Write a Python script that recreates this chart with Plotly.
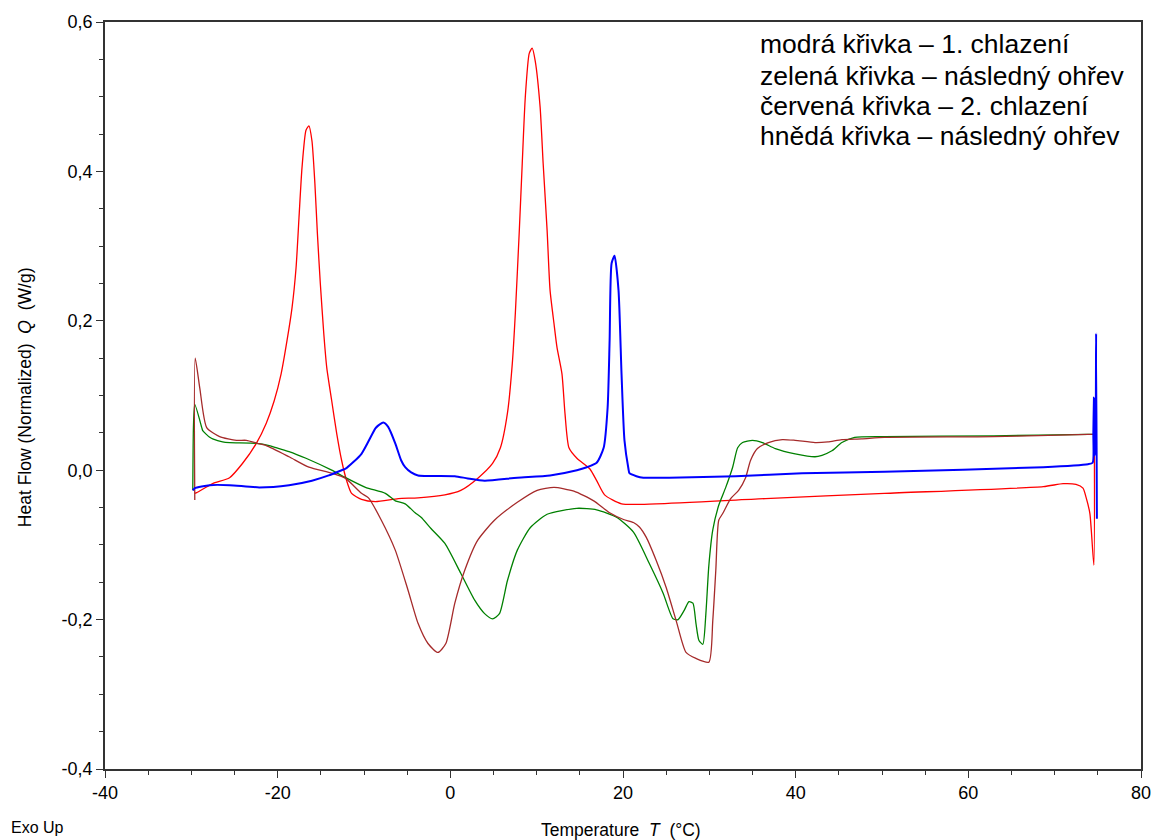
import plotly.graph_objects as go

# ---- data (Temperature °C, Heat flow W/g) ----
blue_T = [74.89, 74.80, 74.72, 74.62, 74.55, 74.48, 74.40, 73.86, 68.68, 50.29, 40.75, 33.05, 25.34,
          22.36, 21.55, 20.75, 20.63, 20.17, 19.83, 19.48, 19.02, 18.68, 18.45, 18.22, 17.76, 16.95,
          15.80, 14.66, 11.55, 7.76, 3.97, 2.01, 0.52, -3.74, -4.54, -5.23, -5.69, -6.38, -7.20,
          -7.76, -8.33, -8.68, -10.29, -12.13, -12.59, -14.08, -16.03, -18.68, -22.13, -25.57,
          -27.87, -29.60, -29.83]
blue_Q = [-0.065, 0.183, 0.030, 0.020, 0.097, 0.050, 0.010, 0.008, 0.004, -0.002, -0.004, -0.008, -0.010,
          -0.010, -0.008, -0.004, 0.002, 0.040, 0.129, 0.241, 0.287, 0.277, 0.174, 0.084, 0.030, 0.010,
          0.004, 0.000, -0.007, -0.010, -0.014, -0.011, -0.008, -0.007, -0.003, 0.004, 0.013, 0.036, 0.058,
          0.064, 0.060, 0.056, 0.022, 0.002, 0.000, -0.007, -0.014, -0.020, -0.023, -0.020,
          -0.020, -0.024, -0.027]

red_T = [74.60, 74.54, 74.08, 73.63, 73.28, 72.47, 70.98, 68.68, 50.29, 36.50, 23.85, 19.83, 17.87,
         16.95, 16.15, 14.66, 13.74, 13.28, 12.93, 12.36, 12.01, 11.55, 11.21, 10.75, 10.40, 9.83,
         9.48, 9.14, 8.68, 8.33, 7.99, 7.53, 7.18, 6.61, 5.80, 4.89, 3.16, 1.21, -0.63, -3.74, -6.03,
         -8.68, -10.29, -11.44, -12.01, -12.59, -13.16, -13.74, -14.31, -14.66, -15.06, -15.40,
         -15.69, -16.03, -16.38, -16.72, -17.18, -17.53, -17.87, -18.33, -18.91, -19.60, -20.40,
         -21.32, -22.47, -24.08, -25.57, -27.53, -29.37, -29.60]
red_Q = [0.050, -0.127, -0.058, -0.036, -0.024, -0.019, -0.018, -0.022, -0.031, -0.038, -0.045, -0.045, -0.033,
         -0.014, 0.002, 0.016, 0.030, 0.076, 0.129, 0.164, 0.196, 0.241, 0.321, 0.411, 0.486, 0.548,
         0.565, 0.558, 0.499, 0.411, 0.321, 0.210, 0.143, 0.076, 0.030, 0.009, -0.011, -0.027, -0.033, -0.037, -0.038,
         -0.042, -0.039, -0.031, -0.014, 0.013, 0.049, 0.093, 0.137, 0.183, 0.250, 0.317,
         0.384, 0.441, 0.461, 0.455, 0.405, 0.338, 0.271, 0.218, 0.174, 0.129, 0.093,
         0.063, 0.036, 0.009, -0.010, -0.018, -0.030, -0.031]

green_T = [-29.83, -29.75, -29.60, -28.79, -28.68, -27.87, -27.53, -26.38, -25.57, -22.47, -20.98, -19.83,
           -18.68, -16.72, -13.74, -12.13, -9.83, -7.53, -6.38, -5.23, -4.08, -3.39, -2.24, -0.63, 1.21,
           2.82, 3.97, 4.89, 5.69, 6.61, 7.76, 9.25, 11.21, 14.66, 16.95, 19.25, 21.21, 23.05, 24.66,
           25.80, 26.38, 27.07, 27.64, 28.10, 28.45, 28.80, 29.25, 29.60, 29.94, 30.40, 31.09, 31.90,
           32.70, 33.28, 33.85, 35.00, 36.15, 37.64, 39.94, 42.24, 43.05, 44.20, 45.35, 46.84, 50.29,
           62.93, 73.86, 74.43]
green_Q = [-0.027, 0.060, 0.088, 0.057, 0.053, 0.044, 0.042, 0.038, 0.037, 0.036, 0.033, 0.029,
           0.025, 0.016, 0.000, -0.010, -0.023, -0.031, -0.041, -0.045, -0.057, -0.063, -0.078, -0.098, -0.138,
           -0.174, -0.192, -0.199, -0.192, -0.148, -0.107, -0.077, -0.059, -0.051, -0.053, -0.063, -0.083, -0.125, -0.165,
           -0.199, -0.200, -0.188, -0.176, -0.178, -0.205, -0.228, -0.233, -0.192, -0.128, -0.080, -0.047, -0.023,
           0.004, 0.030, 0.037, 0.040, 0.037, 0.029, 0.022, 0.018, 0.020, 0.026, 0.037, 0.044, 0.045,
           0.046, 0.048, 0.048]

brown_T = [-29.60, -29.55, -29.02, -28.22, -26.72, -24.77, -23.62, -22.36, -21.32, -18.68, -16.38, -13.74,
           -12.13, -10.29, -9.48, -7.99, -6.38, -4.89, -3.74, -2.59, -1.44, -0.52, 0.52, 1.67, 3.16, 5.11,
           7.76, 10.06, 12.01, 14.31, 16.61, 18.45, 20.06, 21.21, 21.90, 22.70, 23.85, 25.00, 26.15, 27.30,
           28.45, 29.94, 30.40, 30.75, 31.09, 31.55, 32.47, 33.39, 34.20, 34.77, 35.57, 36.84, 38.45, 39.94,
           42.24, 43.74, 45.35, 47.64, 50.29, 62.93, 73.86, 74.43]
brown_Q = [-0.040, 0.150, 0.110, 0.057, 0.045, 0.040, 0.040, 0.036, 0.033, 0.018, 0.004, -0.004,
           -0.011, -0.031, -0.037, -0.067, -0.107, -0.161, -0.205, -0.232, -0.244, -0.232, -0.178, -0.134, -0.094, -0.067,
           -0.043, -0.027, -0.023, -0.028, -0.041, -0.057, -0.066, -0.070, -0.076, -0.090, -0.121, -0.157, -0.201, -0.244,
           -0.252, -0.257, -0.201, -0.134, -0.067, -0.058, -0.038, -0.027, -0.010, 0.013, 0.029, 0.037, 0.041, 0.040,
           0.037, 0.038, 0.041, 0.042, 0.044, 0.045, 0.048, 0.048]

y_tickvals = [-0.4, -0.2, 0.0, 0.2, 0.4, 0.6]
y_ticktext = ["-0,4", "-0,2", "0,0", "0,2", "0,4", "0,6"]
x_tickvals = [-40, -20, 0, 20, 40, 60, 80]
x_ticktext = ["-40", "-20", "0", "20", "40", "60", "80"]

legend_lines = ["modrá křivka – 1. chlazení",
                "zelená křivka – následný ohřev",
                "červená křivka – 2. chlazení",
                "hnědá křivka – následný ohřev"]

FONT = "Liberation Sans, Arial, sans-serif"
SM = 0.6

fig = go.Figure()
fig.add_trace(go.Scatter(x=red_T, y=red_Q, mode="lines",
                         line=dict(color="#FF0000", width=1.3, shape="spline", smoothing=SM), showlegend=False))
fig.add_trace(go.Scatter(x=green_T, y=green_Q, mode="lines",
                         line=dict(color="#008000", width=1.3, shape="spline", smoothing=SM), showlegend=False))
fig.add_trace(go.Scatter(x=brown_T, y=brown_Q, mode="lines",
                         line=dict(color="#A52A2A", width=1.3, shape="spline", smoothing=SM), showlegend=False))
fig.add_trace(go.Scatter(x=blue_T, y=blue_Q, mode="lines",
                         line=dict(color="#0000FF", width=2.0, shape="spline", smoothing=SM), showlegend=False))

axis_common = dict(showline=True, mirror=True, linecolor="#333333", linewidth=1.5,
                   showgrid=False, zeroline=False, ticks="outside", ticklen=7, tickwidth=1,
                   tickcolor="#333333", tickfont=dict(family=FONT, size=18, color="black"),
                   ticklabeloverflow="allow")

fig.update_xaxes(range=[-40, 80], tickvals=x_tickvals, ticktext=x_ticktext,
                 minor=dict(ticks="outside", ticklen=4, dtick=5, tick0=0, tickcolor="#333333", showgrid=False),
                 **axis_common)
fig.update_yaxes(range=[-0.4, 0.6], tickvals=y_tickvals, ticktext=y_ticktext,
                 minor=dict(ticks="outside", ticklen=4, dtick=0.05, tick0=0, tickcolor="#333333", showgrid=False),
                 **axis_common)

ML, MR = 105, 13
PW = 1163.0 - ML - MR
annotations = []
centers_px = [43, 75, 105, 135]
for txt, cy in zip(legend_lines, centers_px):
    annotations.append(dict(text=txt, xref="paper", yref="paper",
                            x=(764 - ML) / PW, y=(769 - cy) / 748,
                            xanchor="left", yanchor="middle", showarrow=False,
                            font=dict(family=FONT, size=26.5, color="black")))
annotations.append(dict(text="Heat Flow (Normalized)\u00a0\u00a0<i>Q</i>\u00a0\u00a0(W/g)", xref="paper", yref="paper",
                        x=(25 - ML) / PW, y=(769 - 397) / 748, textangle=-90,
                        xanchor="center", yanchor="middle", showarrow=False,
                        font=dict(family=FONT, size=17.5, color="black")))
annotations.append(dict(text="Temperature\u00a0\u00a0<i>T</i>\u00a0\u00a0(°C)", xref="paper", yref="paper",
                        x=(625 - ML) / PW, y=(769 - 830) / 748,
                        xanchor="center", yanchor="middle", showarrow=False,
                        font=dict(family=FONT, size=17.5, color="black")))
annotations.append(dict(text="Exo Up", xref="paper", yref="paper",
                        x=(8 - ML) / PW, y=(769 - 828) / 748,
                        xanchor="left", yanchor="middle", showarrow=False,
                        font=dict(family=FONT, size=16, color="black")))

fig.update_layout(width=1163, height=840, margin=dict(l=ML, r=MR, t=21, b=71),
                  paper_bgcolor="white", plot_bgcolor="white", showlegend=False,
                  annotations=annotations, font=dict(family=FONT))

fig.write_html("out.html")
